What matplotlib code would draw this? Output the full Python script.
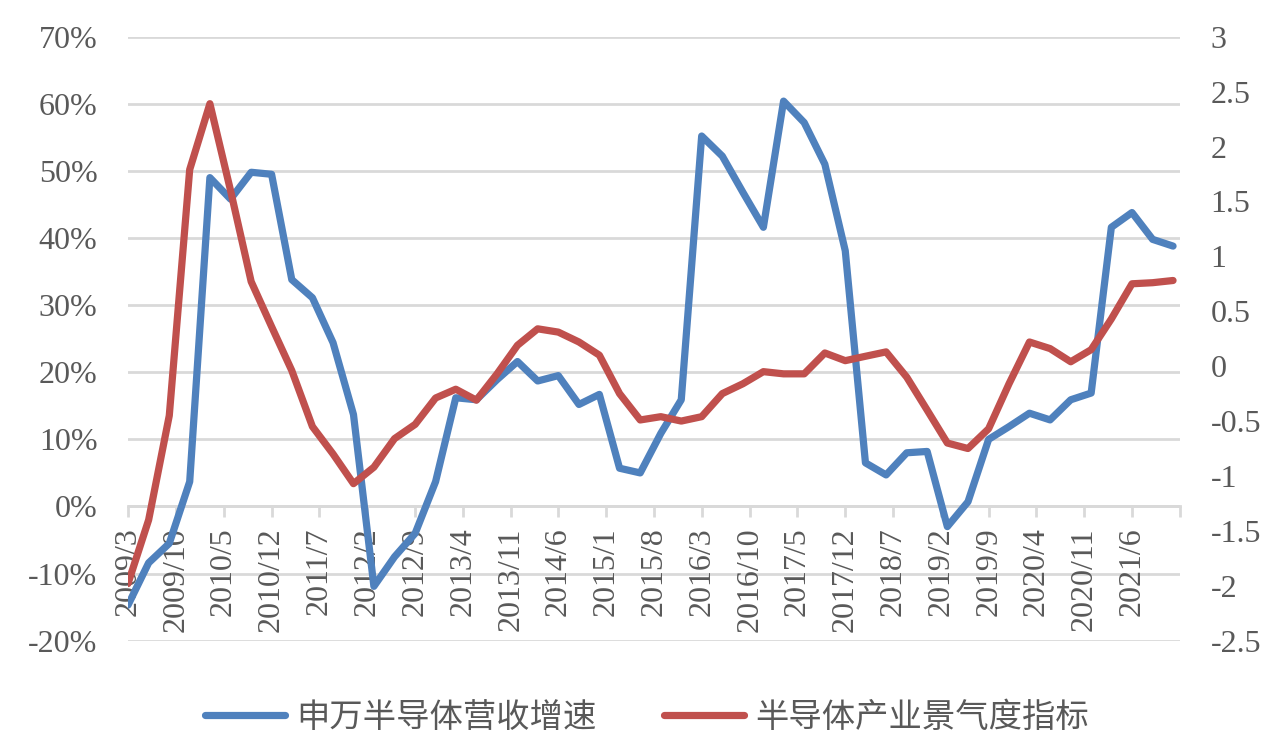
import pandas as pd
import matplotlib
matplotlib.use('Agg')
import matplotlib.pyplot as plt
from matplotlib.ticker import FuncFormatter, FixedLocator, FixedFormatter
import matplotlib.dates as mdates

plt.rcParams['axes.unicode_minus'] = False

# quarterly data 2009/3 .. 2021/12
quarters = pd.date_range('2009-03-01', '2021-12-01', freq='3MS')
# 申万半导体营收增速 (%)
revenue_growth = [-14.7, -8.4, -5.5, 3.7, 49.0, 45.8, 49.8, 49.5, 33.8, 31.1,
                  24.4, 13.7, -11.9, -7.5, -4.0, 3.7, 16.2, 15.9, 18.9, 21.6,
                  18.7, 19.5, 15.2, 16.7, 5.7, 5.0, 10.9, 15.9, 55.2, 52.2,
                  46.8, 41.6, 60.4, 57.2, 51.0, 38.1, 6.5, 4.7, 8.0, 8.2,
                  -3.0, 0.7, 10.0, 11.9, 13.9, 12.9, 15.9, 16.9, 41.6, 43.8,
                  39.8, 38.8]
# 半导体产业景气度指标
prosperity = [-1.98, -1.40, -0.45, 1.79, 2.39, 1.60, 0.77, 0.36, -0.04, -0.55,
              -0.80, -1.07, -0.92, -0.66, -0.53, -0.29, -0.21, -0.31, -0.07, 0.19,
              0.34, 0.31, 0.22, 0.10, -0.25, -0.49, -0.46, -0.50, -0.46, -0.25,
              -0.16, -0.05, -0.07, -0.07, 0.12, 0.05, 0.09, 0.13, -0.10, -0.40,
              -0.70, -0.75, -0.57, -0.16, 0.22, 0.16, 0.04, 0.15, 0.43, 0.75,
              0.76, 0.78]
left_ticks = [-20, -10, 0, 10, 20, 30, 40, 50, 60, 70]
right_ticks = [-2.5, -2, -1.5, -1, -0.5, 0, 0.5, 1, 1.5, 2, 2.5, 3]
label_dates = pd.date_range('2009-03-01', periods=23, freq='7MS')

blue = '#4F81BD'
red = '#C0504D'
grid_c = '#D9D9D9'
txt_c = '#595959'
num_font = 'Liberation Serif'

fig = plt.figure(figsize=(12.81, 7.53), dpi=100)
ax = fig.add_axes([128/1281, 1-640.7/753, (1180-128)/1281, (640.7-36.7)/753])
ax2 = ax.twinx()

for t in left_ticks:
    ax.axhline(t, color=grid_c, lw=2, zorder=0)

ax.plot(quarters, revenue_growth, color=blue, lw=5.2, solid_joinstyle='round',
        solid_capstyle='round', label='申万半导体营收增速', zorder=3)
ax2.plot(quarters, prosperity, color=red, lw=5.2, solid_joinstyle='round',
         solid_capstyle='round', label='半导体产业景气度指标', zorder=3)

ax.set_xlim(pd.Timestamp('2009-03-01'), pd.Timestamp('2022-01-01'))
ax.set_ylim(-20, 70)
ax2.set_ylim(-2.5, 3)

ax.set_yticks(left_ticks)
ax.yaxis.set_major_formatter(FuncFormatter(lambda v, p: '%d%%' % v))
ax2.set_yticks(right_ticks)
ax2.yaxis.set_major_formatter(FuncFormatter(lambda v, p: '%g' % v))

xt = [mdates.date2num(d) for d in label_dates]
xl = ['%d/%d' % (d.year, d.month) if i < 22 else '' for i, d in enumerate(label_dates)]
ax.xaxis.set_major_locator(FixedLocator(xt))
ax.xaxis.set_major_formatter(FixedFormatter(xl))

for s in ['top', 'left', 'right']:
    ax.spines[s].set_visible(False)
    ax2.spines[s].set_visible(False)
ax2.spines['bottom'].set_visible(False)
ax.spines['bottom'].set_position(('data', 0))
ax.spines['bottom'].set_color(grid_c)
ax.spines['bottom'].set_linewidth(2)

ax.tick_params(axis='x', length=8, width=2, color=grid_c, pad=7,
               labelsize=23, labelcolor=txt_c, labelrotation=90)
ax.tick_params(axis='y', length=0, pad=22, labelsize=23, labelcolor=txt_c)
ax2.tick_params(axis='y', length=0, pad=22, labelsize=23, labelcolor=txt_c)
for lab in ax.get_xticklabels() + ax.get_yticklabels() + ax2.get_yticklabels():
    lab.set_fontfamily(num_font)
plt.setp(ax.get_xticklabels(), rotation=90, ha='center', va='top')

h1, l1 = ax.get_legend_handles_labels()
h2, l2 = ax2.get_legend_handles_labels()
fig.legend(h1 + h2, l1 + l2, loc='center', bbox_to_anchor=(0.505, 1-717/753),
           ncol=2, frameon=False, handlelength=2.4, handletextpad=0.35,
           columnspacing=2.0,
           prop={'family': ['Noto Sans CJK SC', 'DejaVu Sans'], 'size': 24},
           labelcolor=txt_c)

fig.savefig('out.png', dpi=100, facecolor='white')
